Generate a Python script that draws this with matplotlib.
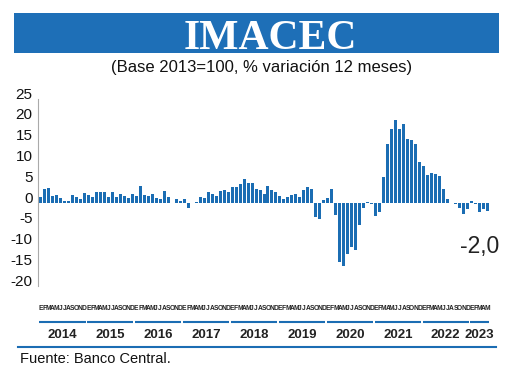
import matplotlib.pyplot as plt
from matplotlib.patches import Rectangle
import matplotlib.transforms as mtransforms

# IMACEC, % variacion 12 meses
years = ['2014', '2015', '2016', '2017', '2018', '2019', '2020', '2021', '2022', '2023']
months = ['E', 'F', 'M', 'A', 'M', 'J', 'J', 'A', 'S', 'O', 'N', 'D']

imacec_2014 = [1.4, 3.3, 3.6, 1.6, 1.9, 1.1, 0.5, 0.3, 1.9, 1.3, 1.0, 2.4]
imacec_2015 = [1.9, 1.3, 2.6, 2.6, 2.6, 1.3, 2.5, 1.4, 2.2, 1.6, 1.1, 2.0]
imacec_2016 = [1.5, 4.0, 1.8, 1.6, 2.2, 1.2, 0.8, 2.9, 1.3, -0.1, 0.8, 0.5]
imacec_2017 = [1.0, -1.2, -0.1, 0.1, 1.4, 1.2, 2.6, 2.1, 1.5, 2.8, 3.1, 2.6]
imacec_2018 = [3.8, 3.8, 4.4, 5.8, 4.8, 4.8, 3.2, 3.1, 2.2, 4.1, 3.0, 2.5]
imacec_2019 = [1.7, 1.0, 1.4, 1.8, 2.0, 1.3, 3.0, 3.7, 3.3, -3.4, -4.0, 0.6]
imacec_2020 = [1.1, 3.2, -3.0, -14.2, -15.2, -12.3, -10.6, -11.4, -5.3, -1.2, 0.2, -0.3]
imacec_2021 = [-3.1, -2.2, 6.2, 14.0, 17.8, 19.9, 17.8, 18.8, 15.4, 15.0, 14.0, 9.8]
imacec_2022 = [8.8, 6.6, 7.2, 7.0, 6.4, 3.4, 0.8, 0.0, -0.3, -1.2, -2.6, -1.4]
imacec_2023 = [0.3, -0.4, -2.2, -1.5, -2.0]

series = [imacec_2014, imacec_2015, imacec_2016, imacec_2017, imacec_2018,
          imacec_2019, imacec_2020, imacec_2021, imacec_2022, imacec_2023]
values = [v for year in series for v in year]
x = list(range(len(values)))

blue = '#1b6db3'

fig = plt.figure(figsize=(5.2, 3.68), dpi=100)

# banner
fig.patches.append(Rectangle((0.027, 0.856), 0.933, 0.109, transform=fig.transFigure,
                             facecolor='#1e6fb7', edgecolor='none'))
fig.text(0.519, 0.866, 'IMACEC', color='white', fontsize=30, fontweight='bold',
         family='Liberation Serif', ha='center', va='baseline')
fig.text(0.503, 0.803, '(Base 2013=100, % variación 12 meses)', fontsize=12,
         family='Liberation Sans', ha='center', va='baseline', color='#111111')

ax = fig.add_axes([0.0731, 0.2231, 0.8692, 0.5087])
ax.bar(x, values, width=0.75, color=blue)
ax.set_xlim(-0.6, len(values) - 0.4)
ax.set_ylim(-20, 25)
ax.set_yticks(range(-20, 26, 5))
ax.set_yticklabels([str(t) for t in range(-20, 26, 5)], family='Liberation Sans',
                   fontsize=11, va='baseline', color='#111111')
ax.tick_params(axis='y', length=0, pad=4)
ax.set_xticks([])
for s in ['top', 'right', 'bottom']:
    ax.spines[s].set_visible(False)
ax.spines['left'].set_color('#aaaaaa')
ax.spines['left'].set_linewidth(0.8)

ax.text(0.96, 0.3125, '-2,0', transform=fig.transFigure, ha='right', va='baseline',
        fontsize=16.5, family='Liberation Sans', color='#222222')

# month letters, year underlines and year labels
trans = mtransforms.blended_transform_factory(ax.transData, fig.transFigure)
start = 0
for year, vals in zip(years, series):
    n = len(vals)
    for k in range(n):
        ax.text(start + k, 0.163, months[k], transform=trans, ha='center', va='center',
                fontsize=4.8, fontweight='bold', family='Liberation Sans',
                color='#222222', clip_on=False)
    ax.plot([start - 0.3, start + n - 0.7], [0.124, 0.124], transform=trans, color=blue,
            lw=1.5, clip_on=False, solid_capstyle='butt')
    ax.text(start + (n - 1) / 2, 0.09, year, transform=trans, ha='center', va='center',
            fontsize=9.5, fontweight='bold', family='Liberation Sans', color='#222222',
            clip_on=False)
    start += n

fig.lines.append(plt.Line2D([0.035, 0.954], [0.0563, 0.0563], transform=fig.transFigure,
                            color=blue, lw=1.5))
fig.text(0.038, 0.0136, 'Fuente: Banco Central.', fontsize=10.5, family='Liberation Sans',
         ha='left', va='baseline', color='#111111')

fig.savefig('out.png', dpi=100)
